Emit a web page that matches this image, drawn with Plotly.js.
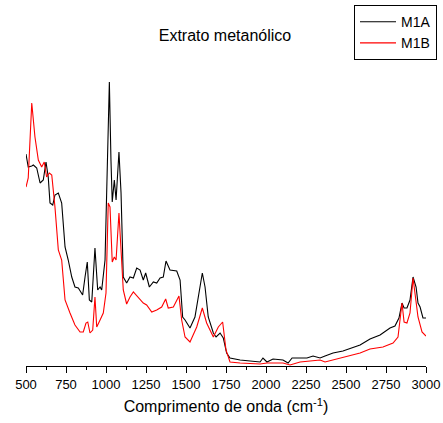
<!DOCTYPE html>
<html>
<head>
<meta charset="utf-8">
<script src="https://cdn.plot.ly/plotly-3.0.1.min.js"></script>
<style>html,body{margin:0;padding:0;background:#fff;}#chart{width:443px;height:423px;}</style>
</head>
<body>
<div id="chart"></div>
<script>
// Wavenumber (cm-1) and intensity (arbitrary units)
var waveM1A = [500,514,536,546,567,588,608,625,639,650,667,681,702,723,744,754,764,786,806,827,854,869,883,896,911,931,948,963,973,994,1008,1021,1031,1039,1052,1063,1081,1094,1108,1129,1150,1171,1192,1213,1233,1248,1271,1296,1317,1338,1358,1375,1400,1442,1463,1479,1494,1525,1556,1583,1602,1619,1639,1671,1688,1713,1733,1754,1775,1838,1963,1981,2006,2044,2106,2138,2163,2194,2256,2294,2338,2369,2419,2481,2544,2588,2650,2713,2775,2806,2831,2850,2863,2881,2900,2919,2938,2950,2963,2981,3000];
var M1A = [212,199,200,201,198,183,186,204,189,163,161,171,173,163,119,113,106,89,79,78,71,89,104,66,64,118,76,79,76,106,206,284,206,164,186,166,214,173,89,83,89,88,98,96,86,93,79,84,83,88,89,105,96,95,86,49,46,38,49,76,93,79,49,33,29,33,28,13,8,6,4,8,4,7,6,3,8,8,8,10,8,10,13,15,19,21,27,31,38,40,48,63,58,58,66,89,79,63,59,48,48];

var waveM1B = [500,514,536,556,577,598,614,629,646,661,681,702,723,744,775,806,838,858,875,886,900,917,931,942,963,983,1000,1014,1025,1039,1052,1063,1081,1094,1108,1129,1150,1171,1202,1233,1254,1286,1317,1348,1373,1389,1421,1456,1473,1494,1525,1567,1602,1629,1671,1702,1729,1744,1750,1775,1838,1963,2006,2106,2150,2213,2338,2369,2463,2588,2650,2731,2794,2825,2850,2863,2881,2900,2919,2938,2950,2975,3000];
var M1B = [179,188,263,229,206,199,204,189,193,191,159,116,106,66,53,41,34,34,43,44,33,36,69,39,46,53,73,163,159,104,109,106,153,119,76,62,69,74,68,63,61,54,56,59,67,58,59,70,46,29,24,39,58,43,29,39,44,26,16,4,3,2,3,3,1,4,6,4,8,13,17,19,23,29,63,44,43,53,88,66,49,34,30];

var seriesNames = ['M1A','M1B'];
var xTicks = [500,750,1000,1250,1500,1750,2000,2250,2500,2750,3000];

var font = 'Arial, "Liberation Sans", sans-serif';
var traces = [
  {x: waveM1A, y: M1A, name: seriesNames[0], type: 'scatter', mode: 'lines',
   line: {color: '#000000', width: 1.1}},
  {x: waveM1B, y: M1B, name: seriesNames[1], type: 'scatter', mode: 'lines',
   line: {color: '#ff0000', width: 1.1}}
];
var layout = {
  width: 443, height: 423,
  margin: {l: 26, r: 17, t: 66, b: 57, autoexpand: false},
  paper_bgcolor: '#ffffff', plot_bgcolor: '#ffffff',
  font: {family: font, color: '#000000', size: 12},
  title: {text: 'Extrato metanólico', x: 0.4975, xref: 'paper', xanchor: 'center',
          y: 0.917, yref: 'container', yanchor: 'middle',
          font: {family: font, size: 16, color: '#000000'}},
  showlegend: true,
  legend: {x: 1.0275, xanchor: 'right', y: 1.203, yanchor: 'top', xref: 'paper', yref: 'paper',
           bgcolor: '#ffffff', bordercolor: '#000000', borderwidth: 1,
           font: {family: font, size: 14, color: '#000000'},
           tracegroupgap: 0, itemwidth: 36},
  xaxis: {range: [500, 3000], tickvals: xTicks, ticktext: xTicks.map(String),
          showgrid: false, zeroline: false, showline: true, linecolor: '#000000', linewidth: 1,
          ticks: 'outside', ticklen: 6, tickwidth: 1, tickcolor: '#000000',
          minor: {dtick: 125, tick0: 500, ticks: 'outside', ticklen: 3, tickcolor: '#000000', showgrid: false},
          tickfont: {family: font, size: 13, color: '#000000'},
          title: {text: 'Comprimento de onda (cm<sup>-1</sup>)', standoff: 10,
                  font: {family: font, size: 16, color: '#000000'}}},
  yaxis: {range: [0, 300], visible: false, showgrid: false, zeroline: false}
};
Plotly.newPlot('chart', traces, layout, {displayModeBar: false, staticPlot: true});
</script>
</body>
</html>
